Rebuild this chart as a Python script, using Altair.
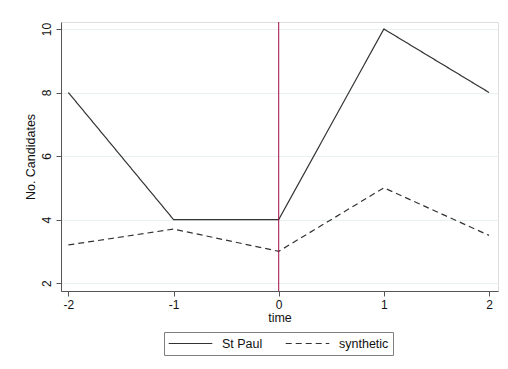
import altair as alt
import pandas as pd

time = [-2, -1, 0, 1, 2]
st_paul = [8, 4, 4, 10, 8]
synthetic = [3.2, 3.7, 3.0, 5.0, 3.5]
series_names = ["St Paul", "synthetic"]
event_time = [0]

rows = []
for t, v in zip(time, st_paul):
    rows.append({"time": t, "value": v, "series": series_names[0]})
for t, v in zip(time, synthetic):
    rows.append({"time": t, "value": v, "series": series_names[1]})
df = pd.DataFrame(rows)
vline = pd.DataFrame({"time": event_time})

FONT = "Liberation Sans"

xscale = alt.Scale(domain=[-2.07, 2.085], nice=False, zero=False)
yscale = alt.Scale(domain=[1.75, 10.22], nice=False, zero=False)

lines = alt.Chart(df).mark_line(strokeWidth=1.2, color="#333333").encode(
    x=alt.X("time:Q", scale=xscale,
            axis=alt.Axis(values=time, labelExpr="'' + datum.value", title="time", grid=False,
                          tickSize=5, labelPadding=3, titlePadding=1,
                          domainColor="#555555", tickColor="#555555",
                          labelFontSize=12, titleFontSize=12.5,
                          labelColor="#111111", titleColor="#111111",
                          titleFontWeight="normal")),
    y=alt.Y("value:Q", scale=yscale,
            axis=alt.Axis(values=[2, 4, 6, 8, 10], labelExpr="'' + datum.value",
                          title="No. Candidates",
                          grid=True, gridColor="#E8F0F1", tickSize=5,
                          labelAngle=270, labelAlign="center", labelBaseline="bottom",
                          labelPadding=3, titlePadding=3,
                          domainColor="#555555", tickColor="#555555",
                          labelFontSize=12, titleFontSize=12.5,
                          labelColor="#111111", titleColor="#111111",
                          titleFontWeight="normal")),
    strokeDash=alt.StrokeDash("series:N",
                              scale=alt.Scale(domain=series_names, range=[[1, 0], [6, 4]]),
                              legend=alt.Legend(title=None, orient="none", legendX=103, legendY=310,
                                                direction="horizontal", symbolType="stroke",
                                                symbolSize=1900, symbolStrokeWidth=1.2,
                                                symbolStrokeColor="#333333",
                                                labelFontSize=12.5, labelColor="#111111",
                                                strokeColor="#808080", padding=4,
                                                clipHeight=15,
                                                columnPadding=22, labelOffset=9)),
)

rule = alt.Chart(vline).mark_rule(color="#a00c44", strokeWidth=1).encode(
    x=alt.X("time:Q", scale=xscale)
)

chart = alt.layer(lines, rule).properties(
    width=437, height=269,
    autosize=alt.AutoSizeParams(type="none"),
    padding={"left": 61, "top": 22, "right": 10, "bottom": 78},
    background="white",
).configure_view(stroke=None).configure(font=FONT)

chart.save("out.html", embed_options={"renderer": "svg", "actions": False})
